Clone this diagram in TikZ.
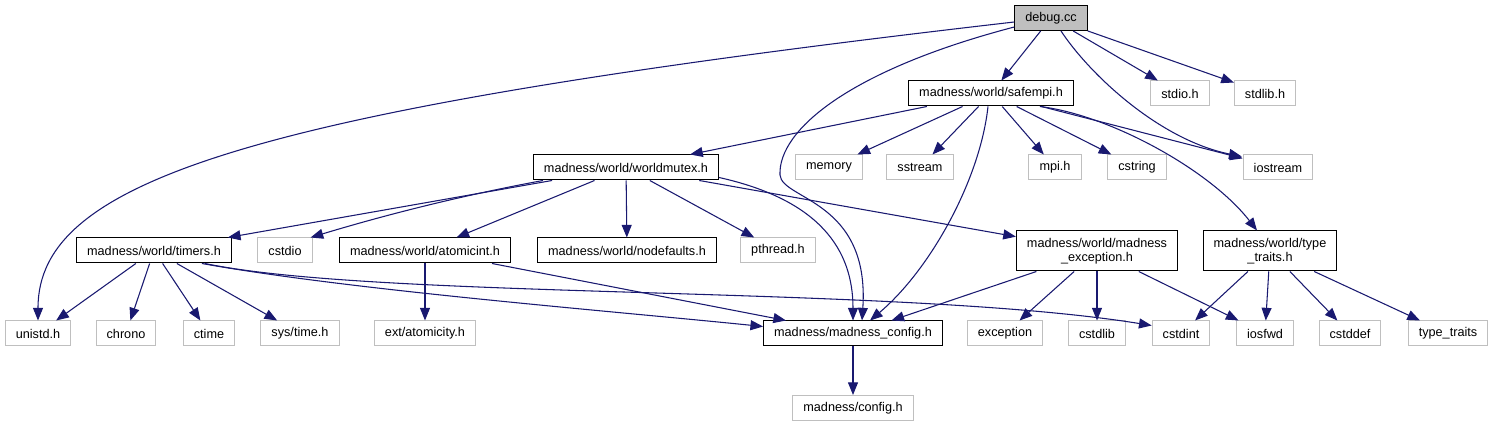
\documentclass[tikz,border=0pt]{standalone}
\usepackage{fontspec}
\setmainfont{Liberation Sans}
\usepackage{xcolor}
\usepackage{tikz}
\usetikzlibrary{arrows.meta, positioning, calc}
\definecolor{edgeblue}{RGB}{25, 25, 112}
\definecolor{sysgray}{RGB}{191, 191, 191}

\begin{document}
\begin{tikzpicture}[x=0.75pt, y=-0.75pt,
  every node/.style={font=\fontsize{9.5}{10.5}\selectfont, inner xsep=7.9pt, inner ysep=0pt, minimum height=18.75pt, line width=0.75pt},
  hdr/.style={draw=black, fill=white},
  sys/.style={draw=sysgray, fill=white},
  two/.style={align=center, minimum height=30pt},
  inc/.style={-{Triangle[length=9.5pt,width=7.5pt]}, draw=edgeblue, line width=0.8pt}]
\useasboundingbox (0,0) rectangle (1495,427);
\node[hdr, fill=sysgray] (debug) at (1051,18) {debug.cc};
\node[hdr] (safempi) at (991,93.5) {madness/world/safempi.h};
\node[sys] (stdio) at (1180,93.5) {stdio.h};
\node[sys] (stdlib) at (1265,93.5) {stdlib.h};
\node[hdr] (worldmutex) at (626,167.5) {madness/world/worldmutex.h};
\node[sys] (memory) at (829,167.5) {memory};
\node[sys] (sstream) at (920,167.5) {sstream};
\node[sys] (mpi) at (1055,167.5) {mpi.h};
\node[sys] (cstring) at (1137,167.5) {cstring};
\node[sys] (iostream) at (1278,167.5) {iostream};
\node[hdr] (timers) at (154,250.5) {madness/world/timers.h};
\node[sys] (cstdio) at (285,250.5) {cstdio};
\node[hdr] (atomicint) at (425,250.5) {madness/world/atomicint.h};
\node[hdr] (nodefaults) at (627,250.5) {madness/world/nodefaults.h};
\node[sys] (pthread) at (778,250.5) {pthread.h};
\node[hdr, two] (mexception) at (1097,251) {madness/world/madness\\\_exception.h};
\node[hdr, two] (typetraits) at (1270,251) {madness/world/type\\\_traits.h};
\node[sys] (unistd) at (38,333.5) {unistd.h};
\node[sys] (chrono) at (126,333.5) {chrono};
\node[sys] (ctime) at (209,333.5) {ctime};
\node[sys] (systime) at (300,333.5) {sys/time.h};
\node[sys] (atomicity) at (425,333.5) {ext/atomicity.h};
\node[hdr] (mconfig) at (853,333.5) {madness/madness\_config.h};
\node[sys] (exception) at (1005,333.5) {exception};
\node[sys] (cstdlib) at (1097,333.5) {cstdlib};
\node[sys] (cstdint) at (1181,333.5) {cstdint};
\node[sys] (iosfwd) at (1265,333.5) {iosfwd};
\node[sys] (cstddef) at (1350,333.5) {cstddef};
\node[sys] (stdtraits) at (1448,333.5) {type\_traits};
\node[sys] (config) at (853,408) {madness/config.h};

\draw[inc] (debug) -- (safempi);
\draw[inc] (debug) -- (stdio);
\draw[inc] (debug) -- (stdlib);
\draw[inc] ($(debug.west)+(0,4)$) .. controls (250,110) and (38,180) .. (unistd.north);
\draw[inc] ($(debug.south)+(10,0)$) .. controls (1090,75) and (1160,140) .. ($(iostream.north west)+(-1,2)$);
\draw[inc] ($(debug.west)+(0,9)$) .. controls (850,70) and (778,130) .. (780,175) .. controls (782,200) and (870,200) .. ($(mconfig.north)+(9,0)$);
\draw[inc] (safempi) -- (worldmutex);
\draw[inc] (safempi) -- (memory);
\draw[inc] (safempi) -- (sstream);
\draw[inc] (safempi) -- (mpi);
\draw[inc] (safempi) -- (cstring);
\draw[inc] (safempi) -- (iostream);
\draw[inc] ($(safempi.south)+(-3,0)$) .. controls (980,180) and (930,270) .. ($(mconfig.north)+(17,0)$);
\draw[inc] ($(safempi.south east)+(-34,0)$) .. controls (1110,115) and (1210,170) .. ($(typetraits.north)+(-13,0)$);
\draw[inc] (worldmutex) -- (timers);
\draw[inc] ($(worldmutex.south west)+(10,0)$) .. controls (470,194) and (395,212) .. ($(cstdio.north east)+(-2,0)$);
\draw[inc] (worldmutex) -- (atomicint);
\draw[inc] (worldmutex) -- (nodefaults);
\draw[inc] (worldmutex) -- (pthread);
\draw[inc] (worldmutex) -- (mexception);
\draw[inc] ($(worldmutex.south east)+(0,-3)$) .. controls (820,200) and (853,250) .. (mconfig.north);
\draw[inc] (timers) -- (unistd);
\draw[inc] (timers) -- (chrono);
\draw[inc] (timers) -- (ctime);
\draw[inc] (timers) -- (systime);
\draw[inc] ($(timers.south east)+(-30,0)$) .. controls (350,290) and (600,310) .. ($(mconfig.west)+(0,-7)$);
\draw[inc] ($(timers.south east)+(-27,0)$) .. controls (380,300) and (900,285) .. ($(cstdint.west)+(0,-8)$);
\draw[inc] (atomicint) -- (atomicity);
\draw[inc] (atomicint) -- (mconfig);
\draw[inc] (mexception) -- (mconfig);
\draw[inc] (mexception) -- (exception);
\draw[inc] (mexception) -- (cstdlib);
\draw[inc] (mexception) -- (iosfwd);
\draw[inc] (typetraits) -- (cstdint);
\draw[inc] (typetraits) -- (iosfwd);
\draw[inc] (typetraits) -- (cstddef);
\draw[inc] (typetraits) -- (stdtraits);
\draw[inc] (mconfig) -- (config);
\end{tikzpicture}
\end{document}
